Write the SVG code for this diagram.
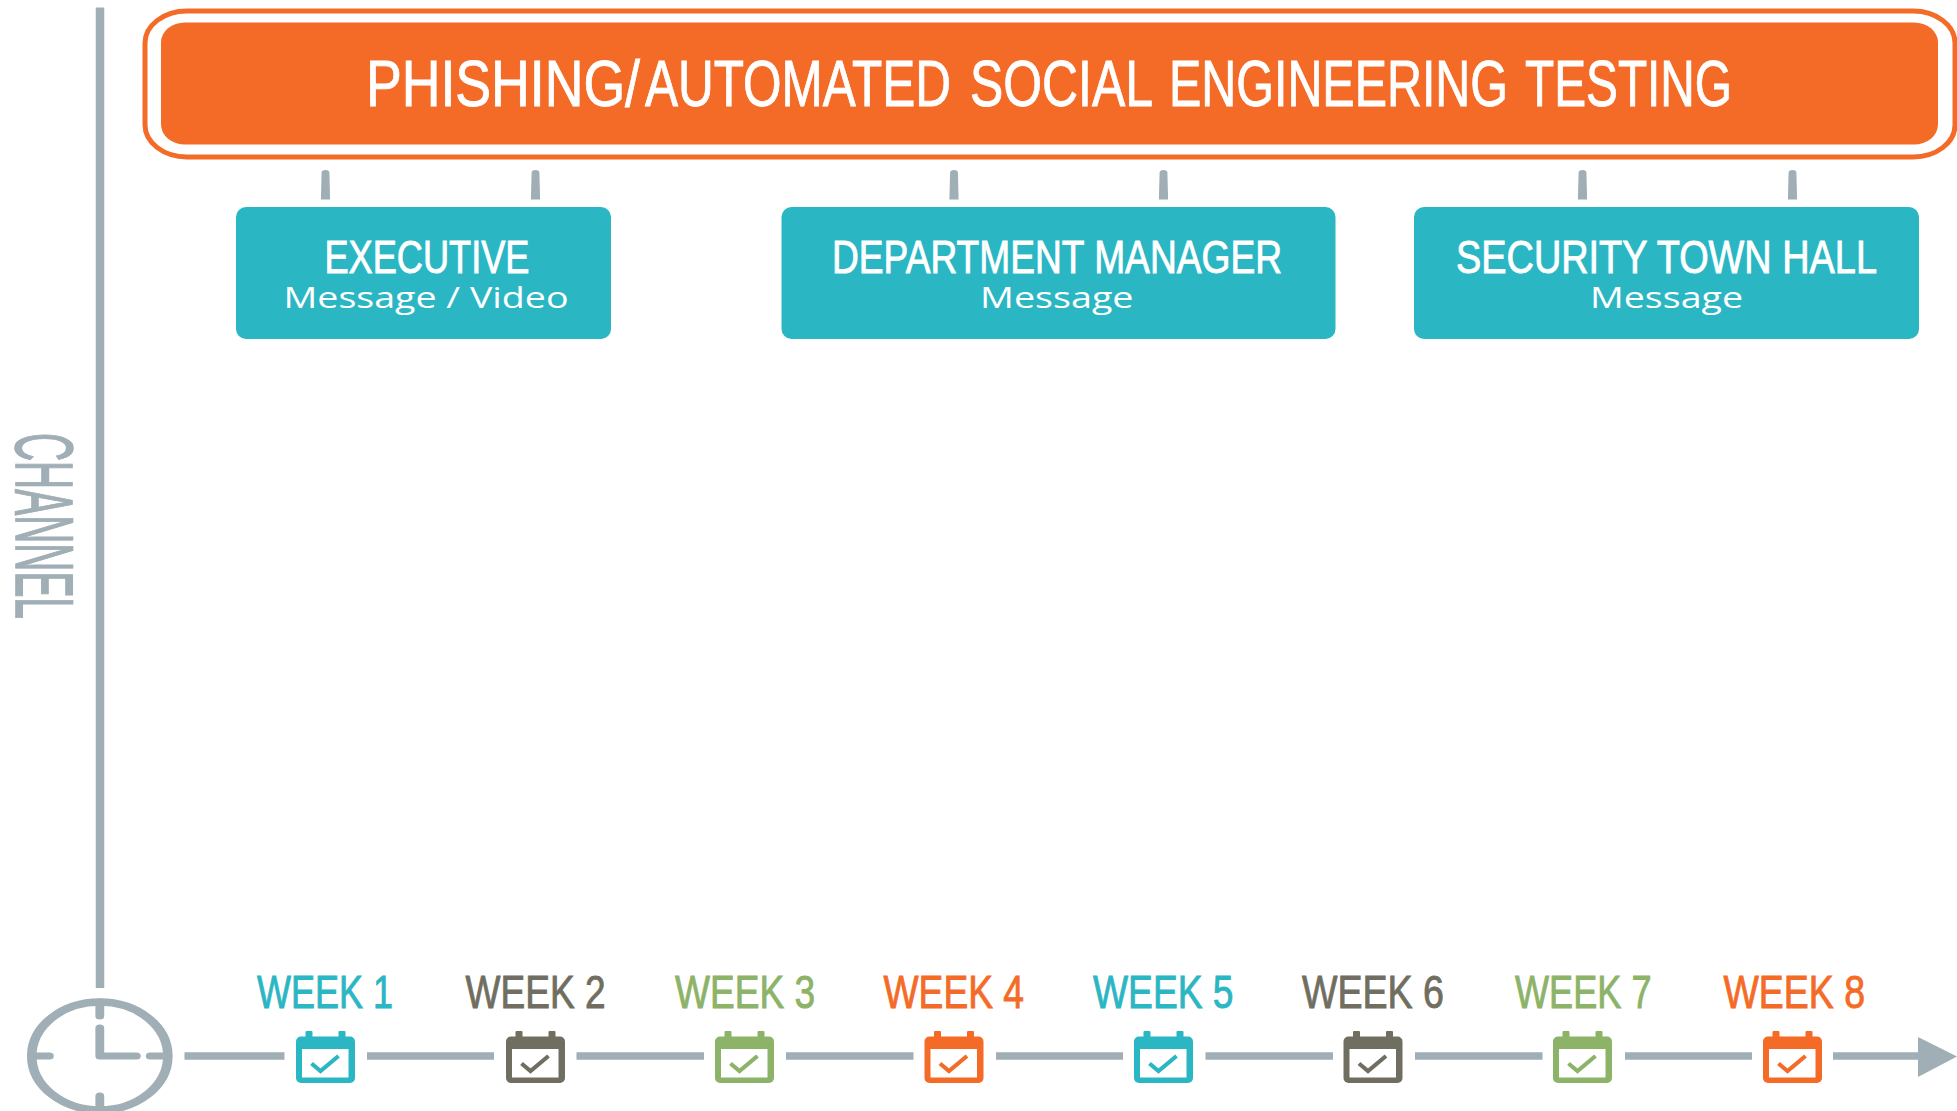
<svg xmlns="http://www.w3.org/2000/svg" width="1957" height="1111" viewBox="0 0 1957 1111">
<style>
.head{font-family:"Liberation Sans Narrow","Liberation Sans",Arial,sans-serif;text-anchor:start;stroke:currentColor;stroke-width:.9px}
.sub{font-family:"Open Sans","Noto Sans",sans-serif;fill:#fff;font-size:30px}
.t{fill:#fff;color:#fff}
.wk{font-size:47px}
.teal{color:#2bb6c4;fill:#2bb6c4}
.olive{color:#706e60;fill:#706e60}
.green{color:#8cb368;fill:#8cb368}
.orange{color:#f46b27;fill:#f46b27}
.box{fill:#2bb6c4}
.seg{stroke:#a0aeb6;stroke-width:7.5;fill:none}
.stub{fill:#a0aeb6}
</style>
<defs>
<g id="cal">
<rect x="-20" y="-25" width="7" height="8" rx="1" fill="currentColor"/>
<rect x="13" y="-25" width="7" height="8" rx="1" fill="currentColor"/>
<rect x="-29.5" y="-19.5" width="59" height="46.5" rx="5" fill="currentColor"/>
<rect x="-23.5" y="-7" width="46.5" height="28.5" fill="#fff"/>
<path d="M-14 7.5 L-5 15 L13 0" fill="none" stroke="currentColor" stroke-width="4.2"/>
</g>
<path id="stubp" d="M-4.6 29.5 L-3.9 2.5 Q-3.8 0 0 0 Q3.8 0 3.9 2.5 L4.6 29.5 Z"/>
</defs>
<rect width="1957" height="1111" fill="#fff"/>

<g id="connectors">
<path class="seg" d="M100 7.5V988" style="stroke-width:8.5"/>
<path class="seg" d="M184.5 1056H284.5M367 1056H494M576.5 1056H704M786 1056H913.5M996 1056H1123M1205.5 1056H1333M1415 1056H1542.5M1625 1056H1752M1833 1056H1920"/>
<polygon class="stub" points="1918,1037 1957,1056.5 1918,1077"/>
<g class="stub">
<use href="#stubp" x="325.5" y="170"/>
<use href="#stubp" x="535.5" y="170"/>
<use href="#stubp" x="954" y="170"/>
<use href="#stubp" x="1163.5" y="170"/>
<use href="#stubp" x="1582.5" y="170"/>
<use href="#stubp" x="1792.5" y="170"/>
</g>
</g>

<g id="node-title">
<rect x="145" y="11" width="1810" height="146" rx="42" ry="32" fill="#fff" stroke="#f46b27" stroke-width="5"/>
<rect x="161" y="22.5" width="1777" height="122" rx="24" ry="20" fill="#f46b27"/>
<text class="head t" y="106" font-size="64"><tspan x="366" textLength="274" lengthAdjust="spacingAndGlyphs">PHISHING/</tspan><tspan x="645" textLength="306" lengthAdjust="spacingAndGlyphs">AUTOMATED</tspan> <tspan x="970" textLength="181" lengthAdjust="spacingAndGlyphs">SOCIAL</tspan> <tspan x="1169" textLength="339" lengthAdjust="spacingAndGlyphs">ENGINEERING</tspan> <tspan x="1525" textLength="207" lengthAdjust="spacingAndGlyphs">TESTING</tspan></text>
</g>

<g id="node-executive">
<rect class="box" x="236" y="207" width="375" height="132" rx="10"/>
<text class="head t" x="324.5" y="272.5" font-size="47" textLength="205" lengthAdjust="spacingAndGlyphs">EXECUTIVE</text>
<text class="sub" x="283.5" y="307.5" textLength="285" lengthAdjust="spacingAndGlyphs">Message / Video</text>
</g>
<g id="node-department-manager">
<rect class="box" x="781.5" y="207" width="554" height="132" rx="10"/>
<text class="head t" x="832" y="272.5" font-size="47" textLength="450" lengthAdjust="spacingAndGlyphs">DEPARTMENT MANAGER</text>
<text class="sub" x="980" y="307.5" textLength="153.5" lengthAdjust="spacingAndGlyphs">Message</text>
</g>
<g id="node-security-town-hall">
<rect class="box" x="1414" y="207" width="505" height="132" rx="10"/>
<text class="head t" x="1456" y="272.5" font-size="47" textLength="421" lengthAdjust="spacingAndGlyphs">SECURITY TOWN HALL</text>
<text class="sub" x="1590" y="307.5" textLength="153" lengthAdjust="spacingAndGlyphs">Message</text>
</g>

<g id="node-channel">
<text class="head" fill="#a0aeb6" color="#a0aeb6" style="stroke-width:1.6px" transform="translate(16 433) rotate(90)" font-size="81" textLength="186" lengthAdjust="spacingAndGlyphs">CHANNEL</text>
</g>

<g id="node-clock" transform="translate(99.8 1056) scale(1.26 1)" fill="none" stroke="#a0aeb6" stroke-linecap="round">
<circle r="54" stroke-width="7.6"/>
<path stroke-width="7" d="M0 -54V-40M0 54V40M-54 0H-40M54 0H40"/>
<path stroke-width="7" stroke-linejoin="round" d="M0 -28V0H29"/>
</g>

<g id="node-week-1" class="teal"><text class="head wk" x="257" y="1007.5" textLength="136" lengthAdjust="spacingAndGlyphs">WEEK 1</text><use href="#cal" x="325.5" y="1056"/></g>
<g id="node-week-2" class="olive"><text class="head wk" x="465.5" y="1007.5" textLength="140" lengthAdjust="spacingAndGlyphs">WEEK 2</text><use href="#cal" x="535.5" y="1056"/></g>
<g id="node-week-3" class="green"><text class="head wk" x="675" y="1007.5" textLength="140" lengthAdjust="spacingAndGlyphs">WEEK 3</text><use href="#cal" x="744.5" y="1056"/></g>
<g id="node-week-4" class="orange"><text class="head wk" x="883.5" y="1007.5" textLength="140.5" lengthAdjust="spacingAndGlyphs">WEEK 4</text><use href="#cal" x="954" y="1056"/></g>
<g id="node-week-5" class="teal"><text class="head wk" x="1093" y="1007.5" textLength="140.5" lengthAdjust="spacingAndGlyphs">WEEK 5</text><use href="#cal" x="1163.5" y="1056"/></g>
<g id="node-week-6" class="olive"><text class="head wk" x="1302" y="1007.5" textLength="142" lengthAdjust="spacingAndGlyphs">WEEK 6</text><use href="#cal" x="1373" y="1056"/></g>
<g id="node-week-7" class="green"><text class="head wk" x="1515" y="1007.5" textLength="136.5" lengthAdjust="spacingAndGlyphs">WEEK 7</text><use href="#cal" x="1582.5" y="1056"/></g>
<g id="node-week-8" class="orange"><text class="head wk" x="1723.5" y="1007.5" textLength="141.5" lengthAdjust="spacingAndGlyphs">WEEK 8</text><use href="#cal" x="1792.5" y="1056"/></g>
</svg>
